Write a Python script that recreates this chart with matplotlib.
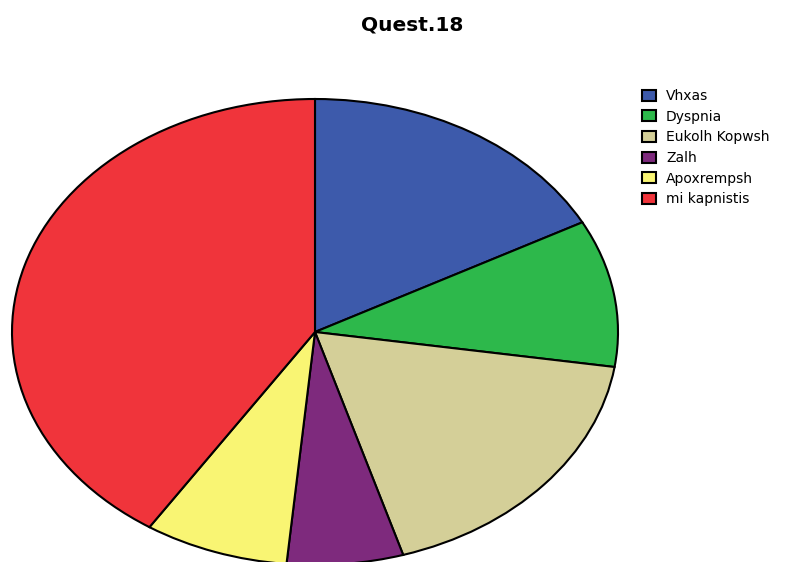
import matplotlib
matplotlib.use("Agg")
import matplotlib.pyplot as plt
from matplotlib.patches import Patch

plt.rcParams['font.family'] = ['DejaVu Sans']

labels = ["Vhxas", "Dyspnia", "Eukolh Kopwsh", "Zalh", "Apoxrempsh", "mi kapnistis"]
values = [17.2, 10.2, 17.9, 6.2, 7.7, 40.8]
colors = ["#3D5AAB", "#2DB84B", "#D4CF98", "#7E2A7D", "#F9F573", "#F0343B"]

W, H = 792, 562
fig = plt.figure(figsize=(W / 100, H / 100), dpi=100)

# axes placed so the unit pie maps to the elliptical pie in pixels
left, right, top, bottom = 12, 618, 99, 565
ax = fig.add_axes([left / W, 1 - bottom / H, (right - left) / W, (bottom - top) / H])
wedges, _ = ax.pie(values, colors=colors, startangle=90, counterclock=False,
                   wedgeprops=dict(edgecolor="black", linewidth=1.5))
for w in wedges:
    w.set_clip_on(False)
ax.set_aspect('auto')
ax.set_xlim(-1, 1)
ax.set_ylim(-1, 1)
ax.axis('off')

fig.text(412 / W, 1 - 25 / H, "Quest.18", ha="center", va="center",
         fontsize=14.5, fontweight="bold")

fs = 10
fpx = fs * 100 / 72
handles = [Patch(facecolor=c, edgecolor="black", linewidth=1.5) for c in colors]
fig.legend(handles, labels, loc="upper left", bbox_to_anchor=(642 / W, 1 - 89 / H),
           frameon=False, fontsize=fs, borderpad=0, handlelength=14 / fpx,
           handleheight=12 / fpx, handletextpad=10 / fpx, labelspacing=0.48,
           borderaxespad=0)

fig.savefig("out.png", dpi=100)
